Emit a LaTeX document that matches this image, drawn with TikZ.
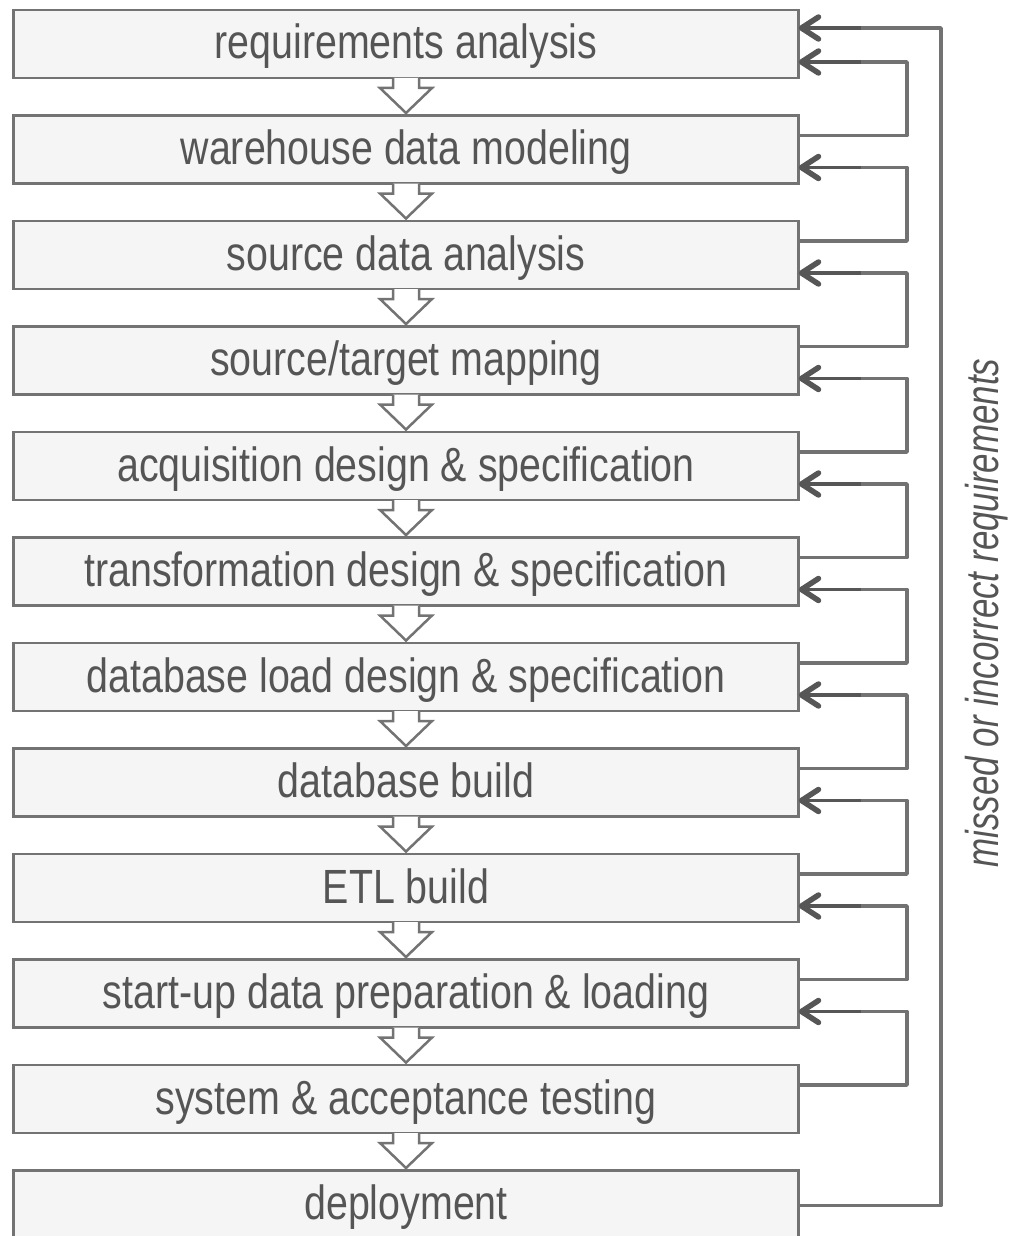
\documentclass[tikz,border=0pt]{standalone}
\usepackage{fontspec}
\setmainfont{Liberation Sans}[FakeStretch=0.82]
\newfontfamily\labfont{Liberation Sans}[FakeStretch=0.76]
\usetikzlibrary{arrows.meta}
\definecolor{boxline}{HTML}{737373}
\definecolor{boxfill}{HTML}{F5F5F5}
\definecolor{txt}{HTML}{555555}
\definecolor{fbline}{HTML}{727272}
\definecolor{fbhead}{HTML}{565656}
\tikzset{
  x=1pt, y=-1pt,
  stage/.style={draw=boxline, fill=boxfill, line width=2.5pt, minimum width=785pt,
    minimum height=68pt, inner sep=0pt, outer sep=0pt, text=txt,
    text height=38pt, text depth=8pt,
    font=\fontsize{48}{50}\selectfont},
  fb/.style={draw=fbline, line width=3.5pt, line join=round},
  fbend/.style={draw=fbhead, line width=3.5pt},
  chev/.style={draw=fbhead, line width=5.5pt, line cap=round, line join=round},
  blockarrow/.style={draw=boxline, fill=white, line width=2.5pt, line join=miter}
}
\begin{document}
\begin{tikzpicture}
\useasboundingbox (0,0) rectangle (1009,1236);
\node[stage] (b1)  at (406,  44.0) {requirements analysis};
\node[stage] (b2)  at (406, 149.5) {warehouse data modeling};
\node[stage] (b3)  at (406, 255.0) {source data analysis};
\node[stage] (b4)  at (406, 360.5) {source/target mapping};
\node[stage] (b5)  at (406, 466.0) {acquisition design \& specification};
\node[stage] (b6)  at (406, 571.5) {transformation design \& specification};
\node[stage] (b7)  at (406, 677.0) {database load design \& specification};
\node[stage] (b8)  at (406, 782.5) {database build};
\node[stage] (b9)  at (406, 888.0) {ETL build};
\node[stage] (b10) at (406, 993.5) {start-up data preparation \& loading};
\node[stage] (b11) at (406,1099.0) {system \& acceptance testing};
\node[stage] (b12) at (406,1204.5) {deployment};
% block arrows between stages
\foreach \i in {1,...,11}{
  \draw[blockarrow] (b\i.south) ++(-13,0) -- ++(0,10) -- ++(-13,0) -- ++(26,25)
     -- ++(26,-25) -- ++(-13,0) -- ++(0,-10);
}
% feedback loops
\foreach \i/\j in {2/1,3/2,4/3,5/4,6/5,7/6,8/7,9/8,10/9,11/10}{
  \draw[fb] ([yshift=-20pt]b\i.north east) -- ++(108.5,0) |- ([yshift=-52pt]b\j.north east);
  \draw[fbend] ([xshift=62pt,yshift=-52pt]b\j.north east) -- ([xshift=3pt,yshift=-52pt]b\j.north east);
  \draw[chev] ([xshift=20pt,yshift=-41pt]b\j.north east) -- ([xshift=3pt,yshift=-52pt]b\j.north east) -- ([xshift=20pt,yshift=-63pt]b\j.north east);
}
\draw[fb] ([yshift=-35pt]b12.north east) -- ++(142.5,0) |- ([yshift=-18pt]b1.north east);
\draw[fbend] ([xshift=62pt,yshift=-18pt]b1.north east) -- ([xshift=3pt,yshift=-18pt]b1.north east);
\draw[chev] ([xshift=20pt,yshift=-7pt]b1.north east) -- ([xshift=3pt,yshift=-18pt]b1.north east) -- ([xshift=20pt,yshift=-29pt]b1.north east);
\node[rotate=90, text=txt, font=\labfont\itshape\fontsize{46}{48}\selectfont, inner sep=0pt] (lab) at (987,613) {missed or incorrect requirements};
\end{tikzpicture}
\end{document}
